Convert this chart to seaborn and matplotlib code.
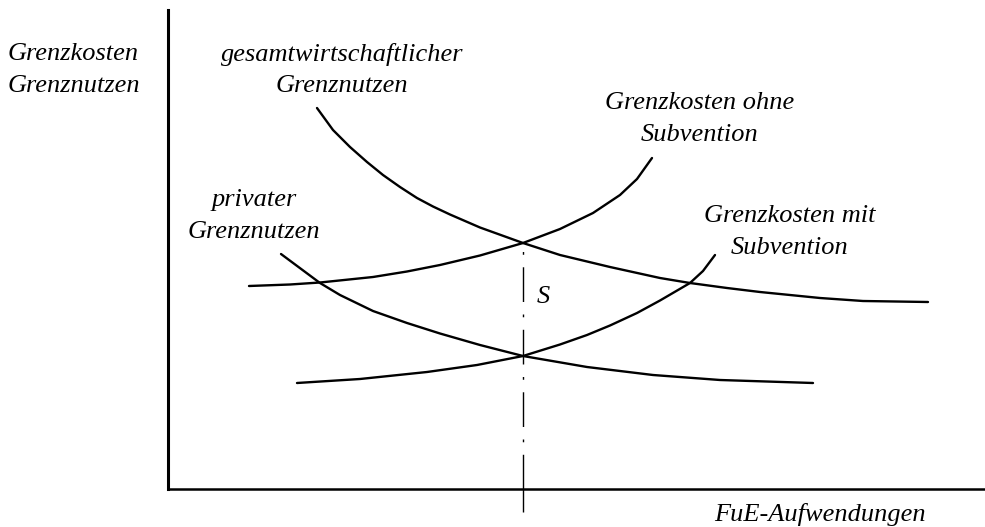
import numpy as np
import pandas as pd
import seaborn as sns
import matplotlib.pyplot as plt

# values (x = FuE-Aufwendungen, y = Grenzkosten / Grenznutzen)
gn_gesamt_x = [149, 165, 182, 199, 215, 232, 249, 265, 282, 312, 355, 392,
               442, 492, 522, 559, 592, 652, 695, 760]
gn_gesamt_y = [381, 359, 342, 327, 314, 302, 291, 282.5, 274.5, 261.5, 246, 234,
               222, 211, 206, 201, 197, 191, 188, 187]

gn_privat_x = [113, 152, 172, 205, 239, 272, 312, 355, 419, 485, 552, 645]
gn_privat_y = [235, 206, 194, 178, 166, 155.5, 144, 133, 122, 114, 109, 106]

gk_ohne_x = [81, 122, 152, 205, 239, 272, 312, 355, 392, 425, 452, 469, 484]
gk_ohne_y = [203, 204.5, 206.5, 212, 217.5, 224, 233.5, 246, 260, 276, 294, 310, 331]

gk_mit_x = [129, 192, 259, 309, 355, 392, 419, 442, 469, 492, 522, 535, 547]
gk_mit_y = [106, 110, 117, 124, 133, 144.5, 154, 163.5, 176, 188.5, 206, 218, 234]

s_x = 355       # Gleichgewicht mit Subvention
s_top = 246

curves = {
    'gesamtwirtschaftlicher Grenznutzen': (gn_gesamt_x, gn_gesamt_y),
    'privater Grenznutzen': (gn_privat_x, gn_privat_y),
    'Grenzkosten ohne Subvention': (gk_ohne_x, gk_ohne_y),
    'Grenzkosten mit Subvention': (gk_mit_x, gk_mit_y),
}

sns.set_style('white')
plt.rcParams['font.family'] = ['Liberation Serif', 'DejaVu Serif']

fig = plt.figure(figsize=(9.85, 5.27), dpi=100)
ax = fig.add_axes([168 / 985, 38 / 527, 817 / 985, 479 / 527])

for name, (xs, ys) in curves.items():
    df = pd.DataFrame({'x': xs, 'y': ys})
    sns.lineplot(data=df, x='x', y='y', sort=False, estimator=None,
                 color='black', linewidth=1.7, ax=ax)

ln, = ax.plot([s_x, s_x], [0, s_top], color='black', linewidth=1.0)
ln.set_dashes([25, 9, 2, 9])

ax.set_xlim(0, 817)
ax.set_ylim(0, 479)
for side in ['top', 'right']:
    ax.spines[side].set_visible(False)
ax.spines['left'].set_linewidth(2.2)
ax.spines['bottom'].set_linewidth(1.8)
ax.spines['left'].set_color('black')
ax.spines['bottom'].set_color('black')
ax.set_xticks([s_x])
ax.set_xticklabels([''])
ax.set_yticks([])
ax.tick_params(axis='x', direction='out', length=16.5, width=1.0, color='black', bottom=True)
ax.set_xlabel('')
ax.set_ylabel('')

fs = 19
txt = dict(fontsize=fs, style='italic', color='black', linespacing=1.55,
           va='center', clip_on=False)
ax.text(-160, 419, 'Grenzkosten\nGrenznutzen', ha='left', multialignment='left', **txt)
ax.text(174, 419, 'gesamtwirtschaftlicher\nGrenznutzen', ha='center', multialignment='center', **txt)
ax.text(86, 273, 'privater\nGrenznutzen', ha='center', multialignment='center', **txt)
ax.text(532, 370, 'Grenzkosten ohne\nSubvention', ha='center', multialignment='center', **txt)
ax.text(622, 257, 'Grenzkosten mit\nSubvention', ha='center', multialignment='center', **txt)
ax.text(375, 192, 'S', ha='center', **txt)
ax.text(652, -26, 'FuE-Aufwendungen', ha='center', **txt)

fig.savefig('out.png', dpi=100)
